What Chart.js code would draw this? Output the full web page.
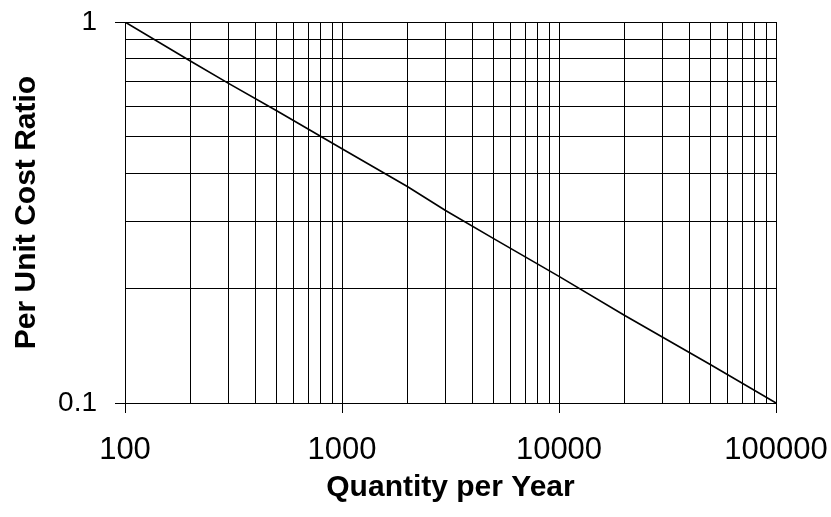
<!DOCTYPE html>
<html>
<head>
<meta charset="utf-8">
<script src="https://cdn.jsdelivr.net/npm/chart.js@4/dist/chart.umd.min.js"></script>
<style>
  body { margin: 0; background: #fff; }
  canvas { display: block; }
</style>
</head>
<body>
<canvas id="myChart" width="831" height="517"></canvas>
<script>
// values
const quantity = [100, 200, 300, 500, 1000, 2000, 3000, 5000, 10000, 20000, 50000, 100000];
const costRatio = [1, 0.79, 0.69, 0.585, 0.465, 0.37, 0.32, 0.27, 0.215, 0.17, 0.126, 0.1];

// grid / tick positions (1..9 in every decade)
const xTicks = [100, 200, 300, 400, 500, 600, 700, 800, 900,
  1000, 2000, 3000, 4000, 5000, 6000, 7000, 8000, 9000,
  10000, 20000, 30000, 40000, 50000, 60000, 70000, 80000, 90000, 100000];
const yTicks = [0.1, 0.2, 0.3, 0.4, 0.5, 0.6, 0.7, 0.8, 0.9, 1];
const xLabels = ["100", "1000", "10000", "100000"];
const yLabels = ["0.1", "1"];

const xTitle = "Quantity per Year";
const yTitle = "Per Unit Cost Ratio";

const isDecade = (v) => {
  const l = Math.log10(v);
  return Math.abs(l - Math.round(l)) < 1e-9;
};
const labelFor = (v, labels) => labels.find((l) => Math.abs(parseFloat(l) - v) < 1e-9 * Math.max(1, v)) || "";

const family = "'Liberation Sans', Arial, sans-serif";

const gridOpts = {
  color: "#000",
  lineWidth: 1,
  tickLength: 10,
  tickColor: (c) => (c.tick && isDecade(c.tick.value) ? "#000" : "rgba(0,0,0,0)"),
};

const ctx = document.getElementById("myChart").getContext("2d");
new Chart(ctx, {
  type: "line",
  data: {
    datasets: [
      {
        data: quantity.map((q, i) => ({ x: q, y: costRatio[i] })),
        borderColor: "#000",
        borderWidth: 1.6,
        pointRadius: 0,
        tension: 0,
        fill: false,
      },
    ],
  },
  options: {
    responsive: false,
    animation: false,
    layout: { padding: { top: 22, right: 55, bottom: 0, left: 0 } },
    plugins: { legend: { display: false }, tooltip: { enabled: false } },
    scales: {
      x: {
        type: "logarithmic",
        min: xTicks[0],
        max: xTicks[xTicks.length - 1],
        grid: gridOpts,
        border: { color: "#000", width: 1 },
        afterBuildTicks: (scale) => {
          scale.ticks = xTicks.map((v) => ({ value: v }));
        },
        ticks: {
          autoSkip: false,
          maxRotation: 0,
          color: "#000",
          font: { family, size: 31 },
          padding: 19,
          callback: (v) => labelFor(v, xLabels),
        },
        title: { display: true, text: xTitle, color: "#000", font: { family, size: 30, weight: "bold" }, padding: { top: 0, bottom: 11 } },
        afterFit: (scale) => {
          scale.height = 114;
          scale.paddingLeft = 0;
          scale.paddingRight = 0;
        },
      },
      y: {
        type: "logarithmic",
        min: yTicks[0],
        max: yTicks[yTicks.length - 1],
        grid: gridOpts,
        border: { color: "#000", width: 1 },
        afterBuildTicks: (scale) => {
          scale.ticks = yTicks.map((v) => ({ value: v }));
        },
        ticks: {
          autoSkip: false,
          color: "#000",
          font: { family, size: 28 },
          padding: 18,
          callback: (v) => labelFor(v, yLabels),
        },
        title: { display: true, text: yTitle, color: "#000", font: { family, size: 30, weight: "bold" }, padding: { top: 9, bottom: 0 } },
        afterFit: (scale) => {
          scale.width = 125;
          scale.paddingTop = 0;
          scale.paddingBottom = 0;
        },
      },
    },
  },
});
</script>
</body>
</html>
